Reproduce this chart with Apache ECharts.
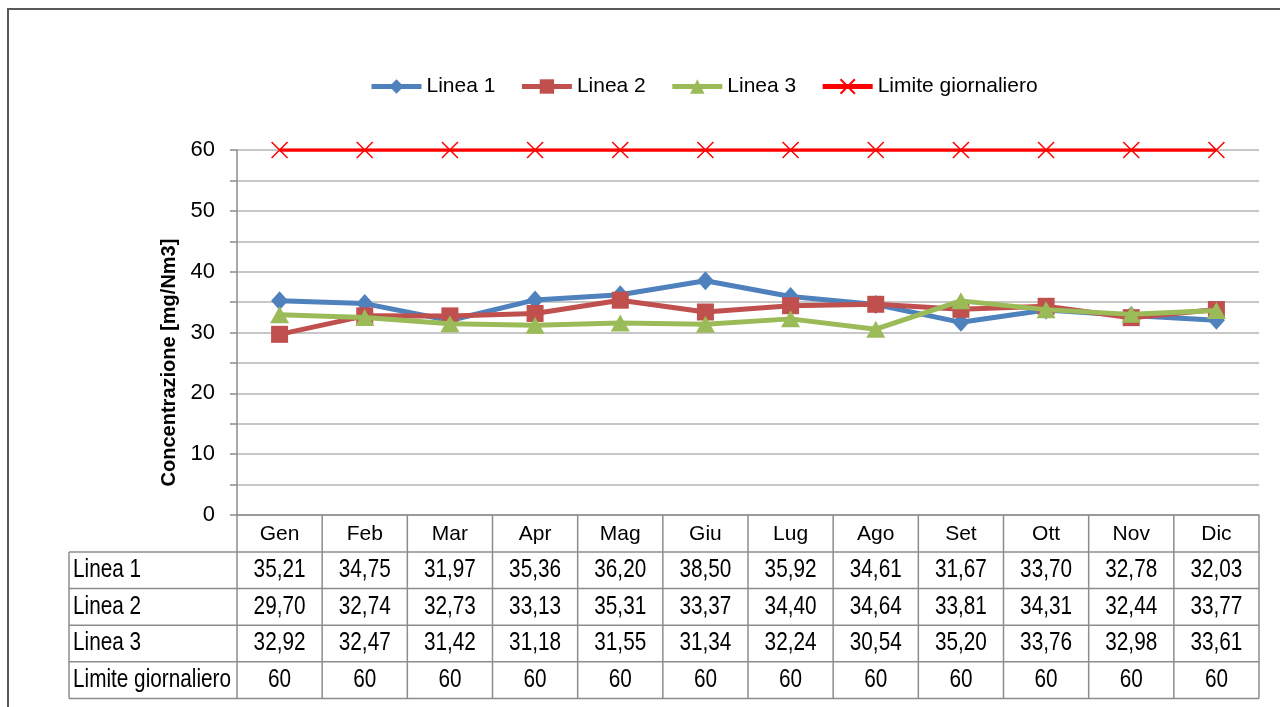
<!DOCTYPE html>
<html>
<head>
<meta charset="utf-8">
<script src="https://cdn.jsdelivr.net/npm/echarts@6/dist/echarts.min.js"></script>
<style>
  html, body { margin: 0; padding: 0; background: #fff; }
  #chart { width: 1280px; height: 707px; }
</style>
</head>
<body>
<div id="chart"></div>
<script>
// dati
const mesi = ['Gen', 'Feb', 'Mar', 'Apr', 'Mag', 'Giu', 'Lug', 'Ago', 'Set', 'Ott', 'Nov', 'Dic'];
const linea1 = [35.21, 34.75, 31.97, 35.36, 36.20, 38.50, 35.92, 34.61, 31.67, 33.70, 32.78, 32.03];
const linea2 = [29.70, 32.74, 32.73, 33.13, 35.31, 33.37, 34.40, 34.64, 33.81, 34.31, 32.44, 33.77];
const linea3 = [32.92, 32.47, 31.42, 31.18, 31.55, 31.34, 32.24, 30.54, 35.20, 33.76, 32.98, 33.61];
const limite = [60, 60, 60, 60, 60, 60, 60, 60, 60, 60, 60, 60];
const nomiSerie = ['Linea 1', 'Linea 2', 'Linea 3', 'Limite giornaliero'];
const yTicks = [0, 10, 20, 30, 40, 50, 60];

const FONT = "'Liberation Sans', Arial, sans-serif";
const GRID_COL = '#b4b4b4';
const TAB_COL = '#8c8c8c';

const chart = echarts.init(document.getElementById('chart'));

const fmt = (v) => Number.isInteger(v) ? String(v) : v.toFixed(2).replace('.', ',');

chart.setOption({
  animation: false,
  textStyle: { fontFamily: FONT, color: '#000' },
  legend: {
    top: 71,
    left: 364,
    itemWidth: 50,
    itemHeight: 18,
    itemGap: 24,
    lineStyle: { width: 5 },
    textStyle: { fontFamily: FONT, fontSize: 21, color: '#000' },
    data: nomiSerie
  },
  grid: { left: 237, right: 21, top: 150, bottom: 192 },
  xAxis: {
    type: 'category',
    data: mesi,
    boundaryGap: true,
    axisLine: { lineStyle: { color: TAB_COL, width: 1.5 } },
    axisTick: { show: false },
    axisLabel: { fontFamily: FONT, fontSize: 21, color: '#000', margin: 9 }
  },
  yAxis: {
    type: 'value',
    min: 0,
    max: 60,
    interval: 5,
    name: 'Concentrazione [mg/Nm3]',
    nameLocation: 'middle',
    nameGap: 50,
    nameTextStyle: { fontFamily: FONT, fontSize: 20, fontWeight: 'bold', color: '#000', padding: [0, 60, 0, 0] },
    axisLine: { show: true, lineStyle: { color: TAB_COL, width: 1.5 } },
    axisTick: { show: true, length: 7, lineStyle: { color: TAB_COL, width: 1.5 } },
    axisLabel: {
      fontFamily: FONT, fontSize: 22, color: '#000', margin: 22,
      formatter: (v) => yTicks.indexOf(v) >= 0 ? String(v) : ''
    },
    splitLine: { lineStyle: { color: GRID_COL, width: 1.5 } }
  },
  series: [
    {
      name: 'Linea 1', type: 'line', data: linea1, z: 2,
      symbol: 'diamond', symbolSize: [17, 19],
      lineStyle: { color: '#4f81bd', width: 5 },
      itemStyle: { color: '#4f81bd' }
    },
    {
      name: 'Linea 2', type: 'line', data: linea2, z: 3,
      symbol: 'rect', symbolSize: 17,
      lineStyle: { color: '#c0504d', width: 5 },
      itemStyle: { color: '#c0504d' }
    },
    {
      name: 'Linea 3', type: 'line', data: linea3, z: 4,
      symbol: 'triangle', symbolSize: [19, 17],
      lineStyle: { color: '#9bbb59', width: 5 },
      itemStyle: { color: '#9bbb59' }
    },
    {
      name: 'Limite giornaliero', type: 'line', data: limite, z: 5,
      symbol: 'path://M0,0L20,20M20,0L0,20', symbolSize: 16,
      lineStyle: { color: '#ff0000', width: 3.5 },
      itemStyle: { color: '#ff0000', borderColor: '#ff0000', borderWidth: 1.5 }
    }
  ]
});

// tabella dati sotto il grafico
function disegnaTabella() {
  const righe = [linea1, linea2, linea3, limite];
  const c0 = chart.convertToPixel({ xAxisIndex: 0 }, 0);
  const c1 = chart.convertToPixel({ xAxisIndex: 0 }, 1);
  const band = c1 - c0;
  const yBase = chart.convertToPixel({ yAxisIndex: 0 }, 0);
  const xStart = c0 - band / 2;
  const xEnd = xStart + band * mesi.length;
  const xLabel = 69;
  const rowH = 36.6;
  const yHead = yBase + 37;
  const yFine = yHead + rowH * righe.length;
  const els = [];
  const linea = (x1, y1, x2, y2) => els.push({
    type: 'line', silent: true,
    shape: { x1, y1, x2, y2 },
    style: { stroke: TAB_COL, lineWidth: 1.5 }
  });
  const testo = (t, x, y, align) => els.push({
    type: 'text', silent: true, x, y, scaleX: 0.83,
    style: { text: t, fontFamily: FONT, fontSize: 25, fill: '#000', textAlign: align, textVerticalAlign: 'middle' }
  });
  for (let k = 0; k <= mesi.length; k++) {
    const x = xStart + band * k;
    linea(x, yBase, x, yFine);
  }
  linea(xLabel, yHead, xLabel, yFine);
  for (let r = 0; r <= righe.length; r++) {
    const y = yHead + rowH * r;
    linea(xLabel, y, xEnd, y);
  }
  righe.forEach((vals, r) => {
    const yc = yHead + rowH * r + rowH / 2;
    testo(nomiSerie[r], xLabel + 4, yc, 'left');
    vals.forEach((v, i) => testo(fmt(v), c0 + band * i, yc, 'center'));
  });
  // cornice esterna
  els.push({
    type: 'rect', silent: true,
    shape: { x: 8, y: 9, width: 1290, height: 720 },
    style: { fill: 'none', stroke: '#595959', lineWidth: 2 }
  });
  chart.setOption({ graphic: els });
}
disegnaTabella();
</script>
</body>
</html>
